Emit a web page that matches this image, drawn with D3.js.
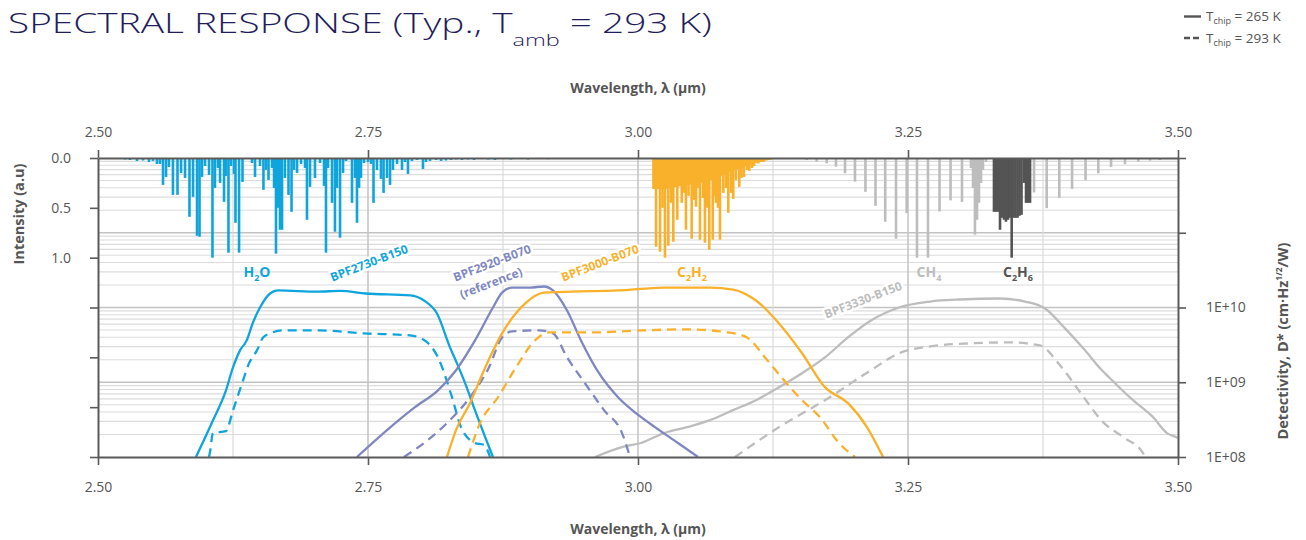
<!DOCTYPE html>
<html><head><meta charset="utf-8">
<script src="https://cdn.jsdelivr.net/npm/d3@7"></script>
<style>
body{margin:0;background:#fff;}
svg{display:block;font-family:'Open Sans',sans-serif;}
</style>
</head><body>
<svg id="chart" width="1306" height="540"></svg>
<script>
// ---------------- DATA ----------------
const wavelengthTicks = [2.50, 2.75, 3.00, 3.25, 3.50];
const wavelengthMinorGrid = [2.625, 2.875, 3.125, 3.375];
const wavelengthMajorGrid = [2.75, 3.00, 3.25];
const intensityTicks = [0.0, 0.5, 1.0, 1.5, 2.0, 2.5, 3.0];
const intensityLabels = ["0.0", "0.5", "1.0", "", "", "", ""];
const detectivityTicks = [1e8, 1e9, 1e10, 1e11, 1e12];
const detectivityLabels = ["1E+08", "1E+09", "1E+10", "", ""];

// absorption lines [wavelength um, intensity a.u.]
const h2oLines = [
 [2.5185,0.01],[2.5250,0.015],[2.5296,0.02],[2.5361,0.03],[2.5417,0.025],[2.5472,0.04],[2.5509,0.03],[2.5546,0.06],[2.5574,0.06],
 [2.5602,0.27],[2.5630,0.19],[2.5657,0.09],[2.5694,0.37],[2.5736,0.37],[2.5769,0.15],[2.5806,0.20],[2.5847,0.59],[2.5880,0.39],
 [2.5917,0.78],[2.5940,0.79],[2.5963,0.19],[2.5991,0.08],[2.6028,0.17],[2.6060,1.00],[2.6083,0.30],[2.6111,0.10],[2.6130,0.25],
 [2.6167,0.44],[2.6185,0.18],[2.6208,0.95],[2.6231,0.08],[2.6259,0.16],[2.6273,0.65],[2.6306,0.95],[2.6338,0.24],[2.6426,0.05],
 [2.6454,0.19],[2.6500,0.08],[2.6532,0.32],[2.6556,0.12],[2.6579,0.22],[2.6611,0.10],[2.6630,0.30],[2.6648,0.96],[2.6667,0.50],
 [2.6685,0.72],[2.6704,0.72],[2.6731,0.20],[2.6764,0.37],[2.6792,0.54],[2.6815,0.12],[2.6843,0.15],[2.6880,0.06],[2.6917,0.10],
 [2.6935,0.62],[2.6963,0.29],[2.7009,0.20],[2.7056,0.05],[2.7093,0.28],[2.7111,0.95],[2.7130,0.10],[2.7167,0.45],[2.7194,0.74],
 [2.7213,0.30],[2.7241,0.80],[2.7269,0.15],[2.7296,0.03],[2.7352,0.45],[2.7380,0.20],[2.7398,0.65],[2.7417,0.30],[2.7435,0.20],
 [2.7463,0.05],[2.7500,0.04],[2.7528,0.06],[2.7551,0.45],[2.7583,0.12],[2.7620,0.21],[2.7644,0.35],[2.7676,0.20],[2.7704,0.27],
 [2.7731,0.12],[2.7769,0.06],[2.7815,0.12],[2.7843,0.04],[2.7870,0.16],[2.7907,0.03],[2.7954,0.02],[2.8009,0.11],[2.8037,0.04],
 [2.8074,0.03],[2.8130,0.02],[2.8176,0.03],[2.8222,0.025],[2.8269,0.02],[2.8315,0.015],[2.8370,0.02],[2.8426,0.015],[2.8481,0.02],
 [2.8546,0.01],[2.8611,0.015],[2.8676,0.02],[2.8750,0.01],[2.8824,0.015],[2.8898,0.01],[2.8981,0.015],[2.9065,0.01],[2.9167,0.012],
 [2.9278,0.01],[2.9389,0.008],[2.9509,0.008],[2.9630,0.006]
];
const c2h2Band = [
 [3.0139,0.31],[3.0250,0.31],[3.0350,0.29],[3.0450,0.27],[3.0550,0.26],[3.0650,0.23],[3.0750,0.19],[3.0850,0.14],
 [3.0950,0.10],[3.1050,0.06],[3.1150,0.035],[3.1250,0.01]
];
const c2h2Lines = [
 [3.0143,0.31],[3.0167,0.89],[3.0204,0.94],[3.0227,0.50],[3.0250,1.00],[3.0281,0.88],[3.0306,0.45],[3.0327,0.84],[3.0364,0.62],
 [3.0405,0.45],[3.0426,0.35],[3.0444,0.72],[3.0468,0.38],[3.0497,0.81],[3.0519,0.42],[3.0537,0.49],[3.0556,0.30],[3.0574,0.82],
 [3.0602,0.40],[3.0620,0.85],[3.0639,0.50],[3.0660,0.92],[3.0692,0.82],[3.0708,0.38],[3.0722,0.45],[3.0741,0.50],[3.0759,0.82],
 [3.0790,0.35],[3.0815,0.30],[3.0836,0.55],[3.0861,0.35],[3.0882,0.41],[3.0907,0.22],[3.0938,0.29],[3.0958,0.20],[3.0981,0.19],
 [3.1009,0.12],[3.1031,0.13],[3.1056,0.10],[3.1074,0.08],[3.1114,0.055],[3.1160,0.04],[3.1206,0.02],[3.1238,0.013]
];
const ch4Lines = [
 [3.1472,0.01],[3.1562,0.02],[3.1654,0.037],[3.1747,0.053],[3.1833,0.087],[3.1917,0.153],[3.2009,0.237],[3.2106,0.34],
 [3.2199,0.48],[3.2289,0.64],[3.2389,0.81],[3.2488,0.553],[3.2583,1.00],[3.2685,1.00],[3.2792,0.537],[3.2894,0.425],[3.3000,0.44],
 [3.3083,0.10],[3.3102,0.30],[3.3120,0.77],[3.3139,0.62],[3.3157,0.45],[3.3176,0.25],[3.3194,0.12],[3.3222,0.04],
 [3.3667,0.345],[3.3784,0.503],[3.3901,0.40],[3.4019,0.31],[3.4144,0.22],[3.4262,0.153],[3.4380,0.09],[3.4509,0.062],
 [3.4632,0.037],[3.4741,0.027],[3.4833,0.02],[3.4926,0.01]
];
const c2h6Lines = [
 [3.3296,0.54],[3.3315,0.54],[3.3333,0.54],[3.3352,0.72],[3.3370,0.60],[3.3389,0.62],[3.3407,0.64],[3.3426,0.62],[3.3444,0.60],
 [3.3460,1.00],[3.3477,0.60],[3.3495,0.60],[3.3514,0.60],[3.3532,0.58],[3.3551,0.57],[3.3574,0.25],[3.3593,0.45],[3.3611,0.45],[3.3630,0.45]
];

// detectivity curves [wavelength um, D* cm·Hz^1/2/W]
const bpf2730_265K = [
 [2.5907,1.0e8],[2.6065,3.1e8],[2.6185,7.8e8],[2.6250,1.58e9],[2.6315,2.67e9],[2.6377,3.63e9],[2.6435,6.3e9],[2.6500,1.0e10],
 [2.6593,1.54e10],[2.6667,1.69e10],[2.7037,1.63e10],[2.7240,1.67e10],[2.7481,1.54e10],[2.7889,1.45e10],[2.8019,1.24e10],
 [2.8139,8.3e9],[2.8259,2.93e9],[2.8324,1.79e9],[2.8407,9.1e8],[2.8491,4.2e8],[2.8657,1.0e8]
];
const bpf2730_293K = [
 [2.6028,1.0e8],[2.6037,1.17e8],[2.6065,2.09e8],[2.6185,2.22e8],[2.6250,4.2e8],[2.6343,1.06e9],[2.6398,1.79e9],[2.6472,2.67e9],
 [2.6528,3.98e9],[2.6593,4.5e9],[2.6713,4.94e9],[2.7056,4.94e9],[2.7463,4.5e9],[2.7889,4.24e9],[2.8037,3.52e9],[2.8148,2.15e9],
 [2.8278,6.3e8],[2.8361,2.51e8],[2.8491,1.54e8],[2.8574,1.45e8],[2.8630,1.0e8]
];
const bpf2920_265K = [
 [2.7398,1.0e8],[2.7676,2.29e8],[2.7935,4.64e8],[2.8148,7.8e8],[2.8315,1.45e9],[2.8491,3.63e9],[2.8657,1.0e10],[2.8741,1.58e10],
 [2.8833,1.85e10],[2.9000,1.85e10],[2.9130,1.91e10],[2.9213,1.69e10],[2.9343,9.1e9],[2.9472,3.63e9],[2.9639,1.32e9],
 [2.9815,6.3e8],[2.9981,3.86e8],[3.0157,2.51e8],[3.0370,1.54e8],[3.0556,1.0e8]
];
const bpf2920_293K = [
 [2.7833,1.0e8],[2.8019,1.54e8],[2.8231,2.84e8],[2.8444,6.3e8],[2.8620,1.58e9],[2.8741,3.98e9],[2.8833,4.79e9],[2.9083,4.94e9],
 [2.9213,4.5e9],[2.9343,2.15e9],[2.9509,9.7e8],[2.9685,4.24e8],[2.9852,2.09e8],[2.9926,1.0e8]
];
const bpf3000_265K = [
 [2.8231,1.0e8],[2.8315,2.29e8],[2.8444,5.25e8],[2.8574,1.45e9],[2.8741,4.5e9],[2.8954,1.13e10],[2.9130,1.58e10],[2.9389,1.63e10],
 [2.9815,1.69e10],[3.0241,1.85e10],[3.0667,1.85e10],[3.0880,1.74e10],[3.1093,1.24e10],[3.1306,6.1e9],[3.1519,2.44e9],
 [3.1731,8.6e8],[3.1944,5.25e8],[3.2120,2.51e8],[3.2269,1.0e8]
];
const bpf3000_293K = [
 [2.8426,1.0e8],[2.8537,2.84e8],[2.8704,6.3e8],[2.8870,1.58e9],[2.9046,3.63e9],[2.9176,4.64e9],[2.9602,4.64e9],[3.0028,4.94e9],
 [3.0454,5.1e9],[3.0833,4.64e9],[3.1009,3.98e9],[3.1176,2.15e9],[3.1352,1.06e9],[3.1519,5.75e8],[3.1685,3.41e8],
 [3.1861,1.54e8],[3.2009,1.0e8]
];
const bpf3330_265K = [
 [2.9602,1.0e8],[2.9852,1.36e8],[3.0028,1.54e8],[3.0241,2.09e8],[3.0454,2.51e8],[3.0667,3.11e8],[3.0880,4.24e8],[3.1093,5.75e8],
 [3.1306,8.6e8],[3.1519,1.32e9],[3.1731,2.15e9],[3.1944,3.98e9],[3.2157,6.7e9],[3.2417,1.0e10],[3.2704,1.2e10],[3.2981,1.28e10],
 [3.3352,1.32e10],[3.3583,1.2e10],[3.3769,9.7e9],[3.3954,5.25e9],[3.4139,2.67e9],[3.4278,1.54e9],[3.4370,1.13e9],
 [3.4583,5.75e8],[3.4769,3.41e8],[3.4898,2.09e8],[3.4981,1.85e8],[3.5000,1.79e8]
];
const bpf3330_293K = [
 [3.0898,1.0e8],[3.1306,2.51e8],[3.1731,5.75e8],[3.2157,1.45e9],[3.2417,2.44e9],[3.2704,3.02e9],[3.3074,3.31e9],[3.3444,3.41e9],
 [3.3722,3.11e9],[3.3907,1.69e9],[3.4093,7.4e8],[3.4306,2.93e8],[3.4491,1.85e8],[3.4676,1.13e8],[3.4694,1.0e8]
];

// ---------------- CHART ----------------
const svg = d3.select("#chart");
const L = 98, R = 1178, T = 158, B = 457;
const x = d3.scaleLinear().domain([2.5, 3.5]).range([L, R]);
const yI = d3.scaleLinear().domain([0, 3]).range([T, B]);
const yD = d3.scaleLog().domain([1e8, 1e12]).range([B, T]);

const C = {blue:"#0fa5dc", orange:"#f9b12b", purple:"#7f87c1", lgray:"#bdbdbd", dgray:"#545454", axis:"#5a5a5a", text:"#555"};

svg.append("defs").append("clipPath").attr("id","plot")
  .append("rect").attr("x",L).attr("y",T).attr("width",R-L).attr("height",B-T);

// grid
const grid = svg.append("g");
const minorVals = [];
[8,9,10,11].forEach(e => [2,3,4,5,6,7,8,9].forEach(k => minorVals.push(k*Math.pow(10,e))));
grid.selectAll(".hm").data(minorVals).join("line")
  .attr("x1",L).attr("x2",R).attr("y1",d=>yD(d)).attr("y2",d=>yD(d))
  .attr("stroke","#dcdcdc").attr("stroke-width",1.2);
grid.selectAll(".hM").data([1e9,1e10,1e11]).join("line")
  .attr("x1",L).attr("x2",R).attr("y1",d=>yD(d)).attr("y2",d=>yD(d))
  .attr("stroke","#c2c2c2").attr("stroke-width",1.6);
grid.selectAll(".vm").data(wavelengthMinorGrid).join("line")
  .attr("x1",d=>x(d)).attr("x2",d=>x(d)).attr("y1",T).attr("y2",B)
  .attr("stroke","#dadada").attr("stroke-width",1.2);
grid.selectAll(".vM").data(wavelengthMajorGrid).join("line")
  .attr("x1",d=>x(d)).attr("x2",d=>x(d)).attr("y1",T).attr("y2",B)
  .attr("stroke","#c6c6c6").attr("stroke-width",1.6);

// spectra
const spec = svg.append("g").attr("clip-path","url(#plot)");
const bw = 2.6;
function bars(data, color){
  spec.append("g").selectAll("rect").data(data).join("rect")
    .attr("x", d => x(d[0]) - bw/2).attr("y", yI(0))
    .attr("width", bw).attr("height", d => yI(d[1]) - yI(0))
    .attr("fill", color);
}
bars(h2oLines, C.blue);
spec.append("path").datum(c2h2Band)
  .attr("d", d3.area().x(d=>x(d[0])).y0(yI(0)).y1(d=>yI(d[1])))
  .attr("fill", C.orange);
bars(c2h2Lines, C.orange);
bars(ch4Lines, C.lgray);
bars(c2h6Lines, C.dgray);

// curves
const curves = svg.append("g").attr("clip-path","url(#plot)");
const line = d3.line().x(d=>x(d[0])).y(d=>yD(d[1])).curve(d3.curveMonotoneX);
const series = [
  [bpf3330_265K, C.lgray, false],[bpf3330_293K, C.lgray, true],
  [bpf2730_265K, C.blue, false],[bpf2730_293K, C.blue, true],
  [bpf2920_265K, C.purple, false],[bpf2920_293K, C.purple, true],
  [bpf3000_265K, C.orange, false],[bpf3000_293K, C.orange, true]
];
series.forEach(([d,c,dash]) => {
  curves.append("path").datum(d).attr("d", line)
    .attr("fill","none").attr("stroke", c).attr("stroke-width", 2.3)
    .attr("stroke-dasharray", dash ? "9,6" : null);
});

// axes
function styleAxis(g){
  g.selectAll("path.domain").attr("stroke", C.axis).attr("stroke-width", 2);
  g.selectAll(".tick line").attr("stroke", C.axis).attr("stroke-width", 1.6);
  g.selectAll(".tick text").attr("fill", C.text).attr("font-size", "14px")
    .attr("font-family", "'Open Sans',sans-serif");
}
svg.append("g").attr("transform",`translate(0,${T})`)
  .call(d3.axisTop(x).tickValues(wavelengthTicks).tickFormat(d3.format(".2f")).tickSize(8).tickSizeOuter(0).tickPadding(13))
  .call(styleAxis);
svg.append("g").attr("transform",`translate(0,${B})`)
  .call(d3.axisBottom(x).tickValues(wavelengthTicks).tickFormat(d3.format(".2f")).tickSize(8).tickSizeOuter(0).tickPadding(17))
  .call(styleAxis);
svg.append("g").attr("transform",`translate(${L},0)`)
  .call(d3.axisLeft(yI).tickValues(intensityTicks).tickFormat((d,i)=>intensityLabels[i]).tickSize(8).tickSizeOuter(0).tickPadding(19))
  .call(styleAxis);
svg.append("g").attr("transform",`translate(${R},0)`)
  .call(d3.axisRight(yD).tickValues(detectivityTicks).tickFormat((d,i)=>detectivityLabels[i]).tickSize(8).tickSizeOuter(0).tickPadding(20))
  .call(styleAxis);

// axis titles
svg.append("text").attr("x",(L+R)/2).attr("y",93).attr("text-anchor","middle")
  .attr("font-weight",700).attr("font-size","14px").attr("fill",C.text).text("Wavelength, λ (µm)");
svg.append("text").attr("x",(L+R)/2).attr("y",534).attr("text-anchor","middle")
  .attr("font-weight",700).attr("font-size","14px").attr("fill",C.text).text("Wavelength, λ (µm)");
svg.append("text").attr("transform","translate(19,214) rotate(-90)").attr("dy","0.35em").attr("text-anchor","middle")
  .attr("font-weight",700).attr("font-size","14.5px").attr("fill",C.text).text("Intensity (a.u)");
const dt = svg.append("text").attr("transform","translate(1283,341) rotate(-90)").attr("dy","0.35em").attr("text-anchor","middle")
  .attr("font-weight",700).attr("font-size","14.5px").attr("fill",C.text);
dt.append("tspan").text("Detectivity, D* (cm·Hz");
dt.append("tspan").attr("font-size","8.5px").attr("dy","-6").text("1/2");
dt.append("tspan").attr("dy","6").text("/W)");

// filter labels (rotated with white halo)
function rotLabel(cx, cy, txt, color){
  svg.append("text").attr("transform",`translate(${cx},${cy}) rotate(-21)`).attr("dy","0.35em")
    .attr("text-anchor","middle").attr("font-weight",700).attr("font-size","12px")
    .attr("fill",color).attr("stroke","#fff").attr("stroke-width",5).attr("paint-order","stroke")
    .attr("stroke-linejoin","round").text(txt);
}
rotLabel(369, 263, "BPF2730-B150", C.blue);
rotLabel(492, 263, "BPF2920-B070", C.purple);
rotLabel(491, 283, "(reference)", C.purple);
rotLabel(600, 263, "BPF3000-B070", C.orange);
rotLabel(863, 300, "BPF3330-B150", C.lgray);

// gas labels
function gasLabel(cx, parts, color){
  const t = svg.append("text").attr("x",cx).attr("y",277).attr("text-anchor","middle")
    .attr("font-weight",700).attr("font-size","14px").attr("fill",color);
  parts.forEach(p => {
    if (p.sub) t.append("tspan").attr("font-size","9px").attr("dy","4").text(p.t);
    else t.append("tspan").attr("dy", p.back ? "-4" : null).text(p.t);
  });
}
gasLabel(257, [{t:"H"},{t:"2",sub:true},{t:"O",back:true}], C.blue);
gasLabel(692, [{t:"C"},{t:"2",sub:true},{t:"H",back:true},{t:"2",sub:true}], C.orange);
gasLabel(929, [{t:"CH"},{t:"4",sub:true}], C.lgray);
gasLabel(1018, [{t:"C"},{t:"2",sub:true},{t:"H",back:true},{t:"6",sub:true}], C.dgray);

// title (stretched horizontally to match the wide geometric face of the original)
const title = svg.append("text").attr("x",0).attr("y",0).attr("font-size","28px")
  .attr("font-weight",300).attr("fill","#1f1d5b");
title.append("tspan").text("SPECTRAL RESPONSE (Typ., T");
title.append("tspan").attr("font-size","17px").attr("dy","13").text("amb");
title.append("tspan").attr("dy","-13").text(" = 293 K)");
const tl = title.node().getComputedTextLength();
title.attr("transform", `translate(8,33) scale(${(704/tl).toFixed(4)},1)`);

// legend
const lg = svg.append("g").attr("fill", C.text).attr("font-size","13.5px");
[[21,false,"265"],[42.5,true,"293"]].forEach(([yb,dash,val]) => {
  lg.append("line").attr("x1",1184).attr("x2",1201).attr("y1",yb-4.5).attr("y2",yb-4.5)
    .attr("stroke","#555").attr("stroke-width",2.4).attr("stroke-dasharray",dash?"6,3":null);
  const t = lg.append("text").attr("x",1206).attr("y",yb);
  t.append("tspan").text("T");
  t.append("tspan").attr("font-size","9px").attr("dy","3").text("chip");
  t.append("tspan").attr("dy","-3").text(" = " + val + " K");
});
</script>
</body></html>
